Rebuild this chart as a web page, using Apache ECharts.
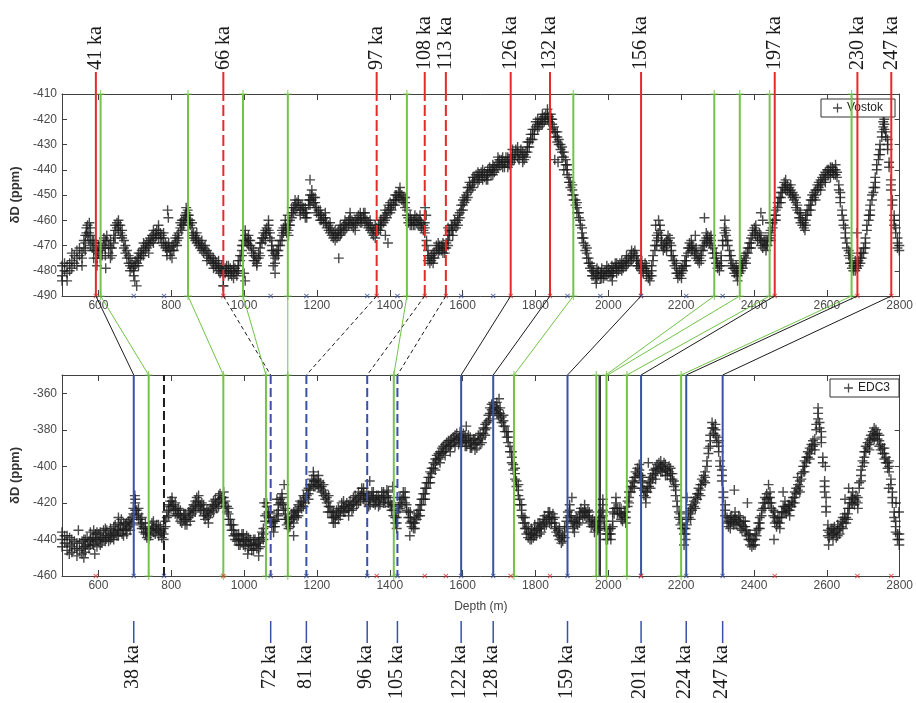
<!DOCTYPE html>
<html>
<head>
<meta charset="utf-8">
<script src="https://cdn.jsdelivr.net/npm/echarts@6/dist/echarts.min.js"></script>
<style>
html,body{margin:0;padding:0;background:#ffffff;}
#chart{width:916px;height:703px;}
</style>
</head>
<body>
<div id="chart"></div>
<script>
// ---- axis ticks ----
const depthTicks = [600, 800, 1000, 1200, 1400, 1600, 1800, 2000, 2200, 2400, 2600, 2800];
const vostokTicks = [-490, -480, -470, -460, -450, -440, -430, -420, -410];
const edcTicks = [-460, -440, -420, -400, -380, -360];

// ---- Vostok δD samples: [depth (m), δD, δD, ...] ----
const vostokRows = [
[500,-478,-482,-484],[507,-480,-477],[514,-481,-478,-484],[521,-477,-480],[527,-476,-473,-479],[534,-474,-477],
[541,-472,-475,-478],[548,-474,-471],[555,-475,-478,-473],[560,-471,-468],[564,-469,-466,-472],[567,-463,-465],
[570,-462,-466],[574,-465,-468],[578,-466,-463,-470],[583,-468,-471],[587,-468,-472,-475],[592,-472,-469],
[596,-472,-475,-478],[600,-473,-470],[605,-472,-475,-469],[610,-471,-474],[615,-470,-467],[619,-468,-471,-474],
[623,-468,-466],[628,-470,-473],[633,-471,-468,-475],[637,-471,-474],[642,-466,-469],[646,-464,-462,-467],
[651,-461,-463],[655,-460,-462,-464],[660,-462,-465],[665,-464,-467,-466],[670,-468,-471],[674,-470,-473],
[678,-472,-475],[683,-474,-477],[687,-475,-478,-480],[692,-477,-479],[697,-478,-480,-482],[701,-476,-478],
[706,-475,-477],[710,-475,-473,-478],[715,-473,-475],[719,-472,-474],[724,-471,-469,-474],[729,-470,-472],
[733,-469,-471],[738,-470,-468,-473],[742,-467,-469],[747,-466,-468],[751,-466,-464,-469],[756,-465,-467],
[760,-464,-466],[765,-464,-462,-467],[770,-465,-467],[774,-466,-469],[779,-467,-465,-470],[784,-469,-471],
[788,-470,-472,-474],[793,-471,-469],[797,-472,-474],[802,-472,-470,-475],[807,-470,-472],[811,-469,-467],
[816,-468,-466,-470],[820,-465,-467],[825,-463,-461],[829,-462,-460,-464],[834,-460,-462],[838,-458,-460],
[841,-457,-455,-459],[845,-456,-458],[848,-458,-460,-461],[852,-460,-462],[857,-463,-461,-466],[861,-465,-467],
[866,-466,-468],[870,-467,-469,-465],[875,-468,-470],[879,-469,-471],[884,-470,-472,-468],[889,-471,-473],
[893,-472,-470],[898,-472,-474,-476],[903,-473,-475],[907,-474,-476],[912,-475,-477],[916,-475,-477,-479],
[921,-476,-478],[925,-477,-479],[930,-478,-480,-476],[934,-479,-481],[939,-480,-478],[943,-480,-482,-486],
[948,-479,-481],[952,-478,-480],[957,-478,-480,-482],[962,-479,-481],[966,-480,-482],[971,-480,-478,-483],
[975,-481,-479],[980,-480,-482],[984,-480,-478,-476],[989,-476,-474],[994,-472,-474,-470],[998,-468,-470],
[1003,-466,-468,-464],[1008,-467,-469],[1012,-468,-470,-466],[1017,-470,-468],[1021,-471,-473],[1026,-472,-474,-476],
[1030,-474,-476],[1035,-475,-477,-478],[1040,-473,-475],[1044,-471,-469,-474],[1049,-469,-467],[1053,-467,-465],
[1058,-466,-464,-468],[1062,-463,-465],[1067,-462,-460,-464],[1071,-465,-467],[1076,-468,-470,-472],[1080,-472,-474],
[1085,-475,-473,-477],[1090,-474,-472],[1094,-472,-470,-474],[1099,-468,-470],[1104,-466,-464,-468],[1108,-463,-465],
[1113,-462,-460,-464],[1117,-463,-465],[1122,-464,-462,-466],[1126,-460,-462],[1131,-457,-459,-455],[1136,-455,-457],
[1140,-454,-452,-456],[1145,-453,-455],[1149,-454,-452],[1154,-454,-456,-458],[1159,-454,-456],[1163,-455,-457],
[1168,-457,-455,-459],[1172,-457,-459],[1177,-454,-452],[1181,-452,-450,-454],[1186,-450,-448,-452],[1190,-451,-453],
[1195,-453,-451,-455],[1199,-455,-457],[1204,-456,-458],[1209,-458,-456,-460],[1213,-458,-460],[1218,-459,-461],
[1223,-459,-461,-457],[1227,-461,-463],[1232,-462,-464],[1236,-463,-465,-461],[1241,-464,-466],[1245,-465,-467],
[1250,-466,-464,-468],[1255,-465,-467],[1259,-464,-466],[1264,-464,-462,-466],[1268,-463,-465],[1273,-462,-464],
[1277,-462,-460,-464],[1282,-461,-463],[1287,-460,-462],[1291,-459,-457,-461],[1296,-460,-462],[1300,-461,-463],
[1305,-462,-460,-464],[1310,-461,-459],[1314,-460,-458],[1319,-459,-461,-457],[1323,-459,-461],[1328,-459,-457],
[1332,-459,-461,-457],[1337,-460,-462],[1341,-461,-463],[1346,-462,-460,-464],[1351,-463,-465],[1355,-464,-466],
[1360,-464,-462,-467],[1364,-463,-465],[1369,-462,-464],[1374,-462,-460,-464],[1378,-460,-462],[1383,-459,-461],
[1387,-458,-456,-460],[1392,-457,-459],[1396,-456,-454],[1401,-455,-453,-457],[1405,-454,-456],[1410,-452,-454],
[1415,-452,-450,-454],[1419,-450,-452],[1424,-449,-451],[1428,-449,-447,-451],[1433,-450,-452],[1437,-451,-453],
[1442,-453,-451,-455],[1447,-456,-458],[1451,-459,-461],[1456,-460,-462,-458],[1460,-460,-462],[1465,-460,-462],
[1469,-460,-462,-458],[1474,-461,-459],[1478,-460,-462],[1483,-460,-462,-458],[1487,-461,-463],[1492,-462,-464],
[1496,-463,-465,-461],[1501,-468,-470],[1505,-474,-472,-476],[1510,-475,-477],[1514,-476,-474],[1519,-475,-477,-473],
[1523,-473,-475],[1528,-472,-470],[1533,-471,-469,-473],[1537,-470,-472],[1542,-470,-472],[1546,-471,-469,-473],
[1551,-471,-473],[1555,-471,-469],[1560,-468,-466,-470],[1564,-466,-464],[1569,-464,-462],[1573,-464,-462,-466],
[1578,-462,-460],[1582,-461,-463],[1587,-460,-458,-462],[1592,-457,-459],[1596,-456,-454],[1601,-454,-452,-456],
[1605,-453,-451],[1610,-452,-450],[1614,-449,-447,-451],[1619,-447,-445],[1623,-446,-448],[1628,-445,-443,-447],
[1632,-443,-445],[1637,-444,-442],[1642,-443,-441,-445],[1646,-442,-444],[1651,-441,-443],[1655,-442,-440,-444],
[1660,-443,-441],[1665,-442,-444],[1669,-442,-440,-444],[1674,-441,-439],[1678,-440,-442],[1683,-440,-438,-442],
[1687,-439,-441],[1692,-438,-440],[1697,-437,-439,-435],[1701,-436,-438],[1706,-436,-438],[1710,-437,-435,-439],
[1715,-437,-439],[1719,-437,-435],[1724,-437,-435,-439],[1728,-436,-438],[1733,-435,-437],[1737,-434,-436,-432],
[1742,-434,-436],[1746,-434,-432],[1751,-433,-435,-431],[1755,-434,-436],[1760,-434,-432],[1765,-435,-433,-437],
[1769,-434,-436],[1774,-433,-435],[1778,-431,-429,-433],[1783,-429,-431],[1787,-428,-426],[1792,-426,-424,-428],
[1797,-424,-426],[1801,-423,-421],[1806,-422,-420,-424],[1810,-421,-423],[1815,-420,-422],[1819,-420,-418,-422],
[1824,-419,-421],[1828,-418,-420],[1833,-418,-416,-420],[1837,-419,-421],[1842,-420,-418],[1846,-420,-422,-424],
[1851,-423,-425],[1855,-425,-427],[1860,-427,-429,-425],[1864,-428,-430],[1869,-430,-432],[1873,-431,-433,-435],
[1878,-433,-435],[1883,-436,-438],[1887,-440,-442,-438],[1892,-443,-445],[1896,-445,-447],[1901,-448,-450,-446],
[1905,-450,-452],[1910,-452,-454],[1914,-455,-457,-453],[1919,-457,-459],[1923,-460,-462],[1928,-463,-465,-467],
[1932,-467,-469],[1937,-470,-472],[1941,-473,-475,-471],[1946,-475,-477],[1950,-477,-479],[1955,-478,-480,-482],
[1959,-480,-482],[1964,-481,-483],[1969,-481,-483,-479],[1973,-482,-480],[1978,-481,-483],[1982,-481,-479,-483],
[1987,-481,-483],[1991,-480,-482],[1996,-480,-478,-482],[2001,-481,-479],[2005,-480,-482],[2010,-480,-478,-482],
[2014,-479,-481],[2019,-479,-477],[2023,-479,-477,-481],[2028,-478,-480],[2032,-477,-479],[2037,-478,-476,-480],
[2041,-477,-479],[2046,-476,-478],[2050,-476,-474,-478],[2055,-475,-477],[2060,-474,-476],[2064,-474,-472,-476],
[2069,-473,-475],[2073,-472,-474],[2078,-474,-476,-478],[2082,-476,-478],[2087,-477,-479],[2092,-478,-480,-476],
[2096,-479,-481],[2101,-479,-477],[2105,-480,-482,-478],[2110,-481,-483],[2114,-482,-484],[2119,-480,-482,-478],
[2123,-476,-474],[2128,-472,-470],[2133,-468,-466,-470],[2137,-465,-467],[2142,-464,-462],[2146,-466,-468,-470],
[2151,-470,-472],[2155,-471,-469],[2160,-470,-472,-468],[2164,-468,-466],[2169,-467,-469],[2173,-470,-472,-474],
[2178,-474,-476],[2182,-476,-478],[2187,-479,-481,-477],[2191,-481,-483],[2196,-482,-480],[2201,-481,-479,-483],
[2205,-480,-478],[2210,-478,-476],[2214,-476,-474,-478],[2219,-473,-471],[2223,-471,-469],[2228,-470,-472,-468],
[2232,-470,-472],[2237,-472,-474],[2241,-473,-475,-471],[2246,-474,-476],[2250,-475,-477],[2255,-474,-472,-476],
[2260,-470,-472],[2264,-468,-470],[2269,-467,-465,-469],[2273,-466,-468],[2278,-467,-469],[2282,-468,-470,-466],
[2287,-471,-473],[2291,-473,-475],[2296,-475,-477,-473],[2300,-477,-479],[2305,-478,-480],[2310,-476,-474,-478],
[2314,-470,-468],[2319,-465,-463],[2323,-464,-466,-468],[2328,-468,-470],[2333,-472,-474],[2337,-474,-476,-478],
[2342,-477,-479],[2346,-479,-481],[2351,-480,-478,-482],[2355,-480,-482],[2360,-479,-481],[2364,-478,-480,-476],
[2369,-477,-479],[2373,-476,-474],[2378,-475,-473,-477],[2383,-473,-471],[2387,-471,-469],[2392,-469,-467,-471],
[2396,-466,-464],[2401,-463,-465],[2405,-464,-462,-466],[2410,-466,-468],[2415,-467,-465],[2419,-468,-470,-466],
[2424,-469,-471],[2428,-470,-468],[2433,-470,-468,-472],[2437,-468,-470],[2442,-467,-465],[2446,-466,-464,-468],
[2451,-463,-461],[2456,-460,-458],[2460,-458,-456,-460],[2465,-455,-453],[2469,-453,-451],[2474,-451,-449,-453],
[2478,-449,-447],[2483,-447,-445],[2487,-446,-448,-444],[2492,-446,-448],[2497,-447,-449],[2501,-448,-446,-450],
[2506,-449,-451],[2510,-450,-452],[2515,-451,-453,-455],[2519,-454,-456],[2524,-457,-459],[2528,-459,-461,-457],
[2533,-460,-462],[2537,-461,-463],[2542,-460,-462,-458],[2546,-458,-456],[2551,-456,-454],[2556,-454,-452,-456],
[2560,-452,-450],[2565,-451,-449],[2569,-450,-448,-452],[2574,-448,-446],[2578,-447,-445],[2583,-446,-444,-448],
[2587,-445,-443],[2592,-444,-442],[2596,-443,-441,-445],[2601,-442,-440],[2605,-442,-440],[2610,-441,-439,-443],
[2615,-441,-439],[2619,-440,-442],[2624,-440,-442,-438],[2628,-441,-443],[2633,-446,-448],[2637,-451,-453,-449],
[2642,-456,-458],[2646,-460,-462],[2651,-465,-467,-463],[2655,-469,-471],[2660,-472,-474],[2664,-475,-477,-473],
[2669,-477,-479],[2673,-478,-480],[2678,-478,-480,-476],[2683,-477,-479],[2687,-476,-478],[2692,-475,-477,-473],
[2696,-473,-475],[2701,-471,-473],[2706,-469,-467,-471],[2710,-464,-462],[2715,-460,-458],[2719,-456,-454,-458],
[2724,-452,-450],[2728,-449,-447],[2733,-445,-443,-447],[2737,-440,-438],[2742,-436,-434],[2746,-432,-430,-434],
[2751,-427,-425],[2755,-423,-421],[2758,-422,-424,-420],[2762,-425,-427],[2767,-430,-428,-432],[2771,-437,-439],
[2776,-446,-444,-448],[2780,-452,-454],[2785,-460,-462,-458],[2789,-465,-463],[2794,-467,-469,-471],[2799,-472,-470]
];
// scattered Vostok samples away from the main trend
const vostokStray = [
[575,-461],[620,-479],[700,-484],[705,-486],[790,-456],[792,-459],[943,-486],[1000,-481],[1003,-484],[1080,-478],
[1085,-481],[1120,-458],[1181,-444],[1260,-475],[1388,-466],[1395,-469],[1497,-455],[1500,-458],[1560,-463],
[1853,-436],[1862,-437],[1878,-440],[1967,-485],[2011,-484],[2130,-462],[2138,-460],[2239,-466],[2264,-459],
[2320,-460],[2355,-484],[2419,-457],[2424,-460],[2444,-461],[2540,-464],[2683,-465]
];

// ---- EDC3 δD samples: [depth (m), δD, δD, ...] ----
const edcRows = [
[500,-440,-444,-436],[507,-442,-438],[514,-442,-446,-438],[521,-443,-439],[527,-444,-440,-447],[534,-445,-441],
[541,-445,-449,-442],[548,-446,-442],[555,-445,-448,-441],[560,-444,-440],[564,-444,-447,-440],[569,-443,-439],
[574,-441,-445],[578,-440,-436,-443],[583,-439,-442],[587,-439,-435,-443],[592,-440,-437],[596,-440,-444,-436],
[601,-441,-437],[605,-440,-436,-443],[610,-439,-442],[614,-439,-435],[619,-438,-441,-434],[623,-439,-435],
[628,-438,-441],[633,-437,-434,-440],[637,-436,-439],[642,-437,-433,-440],[646,-436,-432],[651,-435,-438],
[655,-435,-431,-438],[660,-435,-432],[665,-434,-437],[669,-435,-431,-438],[674,-435,-432],[678,-434,-437,-431],
[683,-433,-430],[687,-432,-429,-435],[692,-431,-428],[696,-426,-423],[701,-420,-418,-424],[705,-424,-427],
[710,-426,-429,-423],[715,-429,-432],[719,-431,-434,-428],[724,-433,-436],[729,-434,-437,-431],[733,-436,-439],
[738,-437,-440,-434],[742,-435,-438],[747,-434,-431],[751,-433,-436,-430],[756,-434,-437],[760,-435,-432],
[765,-435,-438,-432],[770,-436,-433],[774,-436,-439],[779,-437,-434,-440],[784,-433,-430],[788,-428,-425],
[793,-424,-421,-427],[797,-422,-419],[802,-419,-417,-422],[806,-421,-424],[811,-423,-420,-426],[816,-424,-427],
[820,-426,-423],[825,-427,-430,-424],[829,-428,-431],[834,-429,-426],[838,-429,-432,-426],[843,-429,-432],
[848,-428,-425],[852,-427,-424,-430],[857,-426,-423],[861,-424,-421],[866,-422,-419,-425],[870,-420,-417],
[875,-419,-422,-416],[880,-421,-424],[884,-423,-420],[889,-424,-427,-421],[893,-426,-429],[898,-427,-424],
[902,-428,-431,-425],[907,-426,-423],[912,-424,-421],[916,-422,-419,-425],[921,-421,-418],[925,-420,-423],
[930,-419,-416,-422],[934,-418,-415],[939,-417,-420],[944,-417,-414,-420],[948,-419,-422],[953,-422,-425],
[957,-426,-423,-429],[962,-429,-432],[966,-432,-435],[971,-435,-438,-432],[975,-437,-440],[980,-438,-441],
[985,-440,-437,-443],[989,-440,-443],[994,-440,-437],[998,-440,-443,-437],[1003,-441,-444],[1007,-441,-438],
[1012,-442,-445,-439],[1017,-443,-440],[1021,-443,-446],[1026,-443,-446,-440],[1030,-443,-440],[1035,-442,-445],
[1040,-442,-439,-445],[1044,-441,-444],[1049,-439,-436],[1053,-437,-434,-440],[1058,-430,-427],[1062,-422,-420,-426],
[1067,-425,-428],[1072,-428,-431,-425],[1076,-430,-433],[1081,-433,-436,-430],[1085,-433,-430],[1090,-429,-426],
[1094,-424,-421,-427],[1099,-420,-418],[1104,-417,-415,-420],[1108,-421,-424],[1113,-426,-429,-423],[1117,-429,-432],
[1122,-431,-434,-428],[1126,-430,-433],[1131,-429,-426],[1136,-428,-431,-425],[1140,-427,-424],[1145,-425,-428],
[1149,-424,-421,-427],[1154,-422,-419],[1158,-420,-423],[1163,-419,-416,-422],[1168,-417,-420],[1172,-416,-413],
[1177,-415,-412,-418],[1181,-413,-410],[1186,-410,-407],[1191,-408,-405,-411],[1195,-408,-411],[1200,-407,-410],
[1204,-408,-405,-411],[1209,-409,-412],[1213,-411,-414],[1218,-413,-410,-416],[1223,-415,-418],[1227,-417,-420],
[1232,-419,-422,-416],[1236,-422,-425],[1241,-425,-428],[1245,-428,-431,-425],[1250,-428,-431],[1254,-427,-424],
[1259,-426,-429,-423],[1264,-424,-427],[1268,-423,-420],[1273,-422,-425,-419],[1277,-422,-425],[1282,-423,-420],
[1287,-424,-421,-427],[1291,-422,-419],[1296,-421,-424],[1300,-420,-417,-423],[1305,-419,-416],[1309,-418,-421],
[1314,-417,-414,-420],[1319,-416,-419],[1323,-415,-412],[1328,-415,-418,-412],[1332,-416,-419],[1337,-418,-415],
[1342,-419,-422,-416],[1346,-418,-421],[1351,-417,-414],[1355,-417,-420,-414],[1360,-418,-421],[1364,-419,-416],
[1369,-419,-422,-416],[1373,-418,-421],[1378,-417,-414],[1383,-417,-420,-414],[1387,-417,-420],[1392,-416,-413],
[1396,-417,-420,-414],[1401,-419,-422],[1405,-421,-424],[1410,-424,-427,-421],[1415,-428,-431],[1419,-431,-434,-428],
[1424,-425,-422],[1428,-420,-417,-423],[1433,-418,-421],[1437,-417,-414],[1442,-417,-420,-414],[1446,-421,-424],
[1451,-425,-428],[1456,-428,-431,-425],[1460,-430,-433],[1465,-431,-434],[1469,-431,-428,-434],[1474,-429,-426],
[1478,-427,-424],[1483,-424,-421,-427],[1487,-421,-418],[1492,-418,-415],[1497,-415,-412,-418],[1501,-412,-409],
[1506,-409,-406],[1511,-406,-403,-409],[1515,-404,-401],[1520,-401,-398],[1525,-399,-396,-402],[1529,-397,-394],
[1534,-396,-393],[1538,-395,-392,-398],[1543,-393,-390],[1547,-392,-389],[1552,-391,-388,-394],[1556,-390,-387],
[1561,-389,-386],[1566,-389,-386,-392],[1570,-388,-385],[1575,-387,-384],[1579,-386,-383,-389],[1584,-385,-382],
[1589,-385,-388],[1593,-384,-381,-387],[1598,-384,-387],[1602,-385,-382],[1607,-386,-383,-389],[1611,-386,-389],
[1616,-386,-383],[1621,-387,-384,-390],[1625,-387,-390],[1630,-388,-385],[1634,-388,-391,-385],[1639,-387,-390],
[1643,-386,-383],[1648,-385,-382,-388],[1653,-384,-387],[1657,-382,-379],[1662,-380,-377,-383],[1666,-379,-376],
[1671,-375,-372],[1675,-371,-368,-374],[1680,-369,-366],[1684,-368,-365,-371],[1689,-367,-370],[1694,-368,-365,-371],
[1698,-369,-372],[1703,-371,-368,-374],[1707,-373,-376],[1712,-375,-378,-372],[1716,-378,-381],[1721,-381,-384],
[1725,-384,-387,-381],[1730,-389,-392],[1735,-395,-398,-392],[1739,-399,-402],[1744,-404,-407,-401],[1748,-408,-411],
[1753,-413,-416,-410],[1757,-418,-421],[1762,-424,-427,-421],[1766,-428,-431],[1771,-431,-434,-428],[1775,-434,-437],
[1780,-436,-439,-433],[1785,-437,-440],[1789,-437,-434,-440],[1794,-436,-439],[1798,-435,-432,-438],[1803,-435,-438],
[1807,-434,-431],[1812,-434,-437,-431],[1816,-433,-436],[1821,-432,-429],[1825,-430,-433,-427],[1830,-429,-432],
[1835,-428,-425],[1839,-428,-431,-425],[1844,-428,-431],[1848,-429,-426],[1853,-431,-434,-428],[1857,-433,-436],
[1862,-435,-438],[1866,-437,-440,-434],[1871,-439,-442],[1875,-438,-441],[1880,-436,-439,-433],[1885,-433,-430],
[1889,-428,-425],[1894,-424,-421,-427],[1898,-427,-430],[1903,-431,-434],[1907,-433,-436,-430],[1912,-431,-428],
[1916,-429,-432],[1921,-428,-425,-431],[1925,-426,-423],[1930,-425,-428],[1935,-424,-421,-427],[1939,-425,-428],
[1944,-427,-424],[1948,-428,-431,-425],[1953,-430,-433],[1957,-432,-429],[1962,-433,-436,-430],[1966,-433,-430],
[1971,-432,-435],[1975,-431,-428,-434],[1980,-428,-425],[1985,-424,-421,-427],[1989,-430,-433],[1994,-437,-440,-434],
[1998,-437,-440],[2003,-437,-434],[2007,-437,-440,-434],[2012,-433,-430],[2016,-426,-423],[2021,-420,-417,-423],
[2025,-423,-426],[2030,-426,-423],[2035,-426,-429,-423],[2039,-427,-430],[2044,-428,-425],[2048,-428,-431,-425],
[2053,-422,-419],[2057,-417,-414,-420],[2062,-414,-411],[2066,-411,-408],[2071,-409,-406,-412],[2075,-406,-403],
[2080,-404,-401],[2085,-402,-399,-405],[2089,-405,-408],[2094,-409,-412,-406],[2098,-413,-416],[2103,-417,-414,-420],
[2107,-414,-411],[2112,-411,-408],[2116,-409,-406,-412],[2121,-407,-404],[2125,-405,-402],[2130,-404,-401,-407],
[2134,-402,-399],[2139,-401,-398],[2144,-400,-397,-403],[2148,-400,-403],[2153,-401,-398],[2157,-402,-399,-405],
[2162,-402,-405],[2167,-403,-400],[2171,-404,-401,-407],[2176,-404,-407],[2180,-408,-411],[2185,-413,-416,-410],
[2189,-419,-422],[2194,-425,-428],[2198,-429,-432,-426],[2203,-431,-434],[2208,-434,-437],[2212,-437,-440,-434],
[2216,-432,-429],[2221,-428,-425],[2226,-426,-423,-429],[2230,-424,-421],[2235,-422,-419],[2239,-420,-417,-423],
[2244,-418,-415],[2248,-415,-412],[2253,-413,-410,-416],[2257,-410,-407],[2262,-408,-405],[2266,-406,-403,-409],
[2271,-400,-397],[2275,-393,-390],[2280,-386,-383,-389],[2285,-379,-376],[2289,-379,-382],[2294,-380,-377,-383],
[2298,-384,-387],[2303,-389,-392,-386],[2307,-397,-400],[2312,-405,-408,-402],[2316,-414,-417],[2321,-424,-427,-421],
[2326,-428,-431],[2330,-430,-433],[2335,-431,-434,-428],[2339,-430,-427],[2344,-429,-432],[2348,-428,-425,-431],
[2353,-429,-432],[2358,-430,-427],[2362,-431,-434,-428],[2367,-432,-435],[2371,-433,-430],[2376,-433,-436,-430],
[2380,-435,-438],[2385,-437,-440],[2389,-440,-443,-437],[2394,-441,-444],[2398,-440,-443],[2403,-440,-437,-443],
[2407,-438,-435],[2412,-434,-431],[2416,-431,-428,-434],[2421,-427,-424],[2425,-423,-420],[2430,-420,-417,-423],
[2435,-418,-415],[2439,-417,-420],[2444,-417,-414,-420],[2448,-420,-423],[2453,-424,-427],[2457,-428,-431,-425],
[2462,-430,-433],[2466,-431,-428],[2471,-431,-434,-428],[2476,-428,-425],[2480,-425,-422],[2485,-422,-419,-425],
[2489,-423,-426],[2494,-424,-421],[2498,-424,-427,-421],[2503,-422,-419],[2507,-420,-417],[2512,-417,-414,-420],
[2516,-415,-412],[2521,-413,-410],[2526,-411,-408,-414],[2530,-407,-404],[2535,-403,-400],[2539,-400,-397,-403],
[2544,-398,-395],[2548,-395,-392],[2553,-393,-390,-396],[2558,-391,-388],[2562,-389,-386],[2567,-388,-385,-391],
[2571,-380,-377],[2576,-371,-368,-374],[2580,-376,-379],[2585,-384,-387,-381],[2589,-395,-398],[2594,-411,-408,-414],
[2598,-422,-425],[2603,-435,-438,-432],[2607,-436,-439],[2612,-437,-434],[2617,-437,-440,-434],[2621,-436,-433],
[2626,-436,-439],[2630,-435,-432,-438],[2635,-434,-437],[2639,-433,-430],[2644,-431,-434,-428],[2649,-429,-426],
[2653,-428,-431],[2658,-426,-423,-429],[2662,-423,-420],[2667,-420,-417],[2671,-417,-414,-420],[2676,-418,-421],
[2680,-419,-416],[2685,-420,-417,-423],[2689,-412,-409],[2694,-405,-402,-408],[2698,-400,-397],[2703,-395,-392,-398],
[2707,-392,-389],[2712,-390,-387],[2717,-388,-385,-391],[2721,-386,-383],[2726,-384,-381],[2730,-382,-379,-385],
[2735,-383,-380],[2739,-385,-382],[2744,-386,-383,-389],[2748,-388,-391],[2753,-390,-393],[2758,-393,-390,-396],
[2762,-395,-398],[2767,-398,-401],[2771,-400,-403,-397],[2776,-407,-410],[2780,-417,-414,-420],[2785,-425,-428],
[2789,-433,-436,-430],[2794,-437,-440],[2799,-440,-437,-443]
];
// scattered EDC3 samples away from the main trend
const edcStray = [
[520,-448],[545,-435],[560,-450],[590,-448],[655,-428],[663,-429],[700,-416],[1010,-448],[1040,-449],[1055,-420],
[1090,-418],[1110,-410],[1136,-438],[1190,-403],[1230,-425],[1345,-408],[1408,-411],[1455,-438],[1610,-378],
[1700,-363],[1900,-417],[1985,-418],[2012,-425],[2110,-398],[2208,-443],[2216,-417],[2346,-413],[2382,-420],
[2440,-410],[2455,-440],[2480,-414],[2520,-406],[2596,-400],[2598,-417],[2605,-443],[2650,-418],[2660,-412],
[2770,-412],[2790,-420],[2798,-425]
];

// ---- Vostok age markers (red) ----
const vostokAgeDepth  = [593, 943, 1364, 1496, 1554, 1732, 1840, 2090, 2457, 2684, 2777];
const vostokAgeText   = ['41 ka', '66 ka', '97 ka', '108 ka', '113 ka', '126 ka', '132 ka', '156 ka', '197 ka', '230 ka', '247 ka'];
const vostokAgeDashed = [false, true, true, true, true, false, false, false, false, false, false];
// Vostok tie points (green)
const vostokTieDepth  = [606, 846, 997, 1120, 1447, 1904, 2291, 2361, 2443, 2668];

// ---- EDC age markers (blue) ----
const edcAgeDepth  = [697, 1073, 1171, 1338, 1421, 1596, 1684, 1888, 2090, 2214, 2314];
const edcAgeText   = ['38 ka', '72 ka', '81 ka', '96 ka', '105 ka', '122 ka', '128 ka', '159 ka', '201 ka', '224 ka', '247 ka'];
const edcAgeDashed = [false, true, true, true, true, false, false, false, false, false, false];
// EDC tie points (green) and unlabelled black markers
const edcTieDepth    = [738, 943, 1060, 1120, 1411, 1741, 1967, 1995, 2051, 2200];
const edcBlackDepth  = [780, 1975, 1978];
const edcBlackDashed = [true, false, false];

// ---- links Vostok depth -> EDC depth ----
const linkFrom = [593, 606, 846, 943, 997, 1120, 1364, 1496, 1554, 1447, 1732, 1840, 1904, 2090, 2291, 2361, 2443, 2457, 2668, 2684, 2777];
const linkTo   = [697, 738, 943, 1073, 1060, 1120, 1171, 1338, 1421, 1411, 1596, 1684, 1741, 1888, 1993, 1998, 2051, 2090, 2200, 2214, 2314];
const linkKind = ['k', 'g', 'g', 'kd', 'g', 'g', 'kd', 'kd', 'kd', 'g', 'k', 'k', 'g', 'k', 'g', 'g', 'g', 'k', 'g', 'k', 'k'];

// ---- styling ----
const RED = '#e42a2a', GREEN = '#72c447', BLUE = '#3a52a4', BLACK = '#1c1c1c';
const SANS = 'Liberation Sans', SERIF = 'Liberation Serif';
const PLUS = 'path://M0,4.3h10v1.4h-10zM4.3,0h1.4v10h-1.4z';
const AXIS_COLOR = '#404040', LABEL_COLOR = '#4a4a4a';

function toPoints(rows, stray) {
  const out = [];
  rows.forEach(r => { for (let k = 1; k < r.length; k++) out.push([r[0], r[k]]); });
  return out.concat(stray);
}

function xAxisDef(grid, position, showLabel, extra) {
  return Object.assign({
    type: 'value', gridIndex: grid, position: position, min: 500, max: 2800,
    axisLine: { onZero: false, lineStyle: { color: AXIS_COLOR, width: 1 } },
    axisTick: { inside: true, length: 6, customValues: depthTicks, lineStyle: { color: AXIS_COLOR } },
    axisLabel: { show: showLabel, customValues: depthTicks, formatter: v => String(v),
                 color: LABEL_COLOR, fontSize: 12, fontFamily: SANS, margin: 4 },
    splitLine: { show: false }
  }, extra || {});
}
function yAxisDef(grid, position, min, max, ticks, showLabel, extra) {
  return Object.assign({
    type: 'value', gridIndex: grid, position: position, min: min, max: max,
    axisLine: { onZero: false, lineStyle: { color: AXIS_COLOR, width: 1 } },
    axisTick: { inside: true, length: 5, customValues: ticks, lineStyle: { color: AXIS_COLOR } },
    axisLabel: { show: showLabel, customValues: ticks, formatter: v => String(v),
                 color: LABEL_COLOR, fontSize: 12, fontFamily: SANS, margin: 5 },
    splitLine: { show: false }
  }, extra || {});
}

const yName = {
  name: 'δD (ppm)', nameLocation: 'middle', nameRotate: 90, nameGap: 34,
  nameTextStyle: { fontFamily: SANS, fontSize: 13, fontWeight: 'bold', color: '#333' }
};

// vertical marker line spanning a panel
function lineEl(x, y1, y2, color, width, dash) {
  return { type: 'line', shape: { x1: x, y1: y1, x2: x, y2: y2 },
           style: { stroke: color, lineWidth: width, lineDash: dash || null } };
}

const series = [
  {
    name: 'Vostok', type: 'scatter', xAxisIndex: 0, yAxisIndex: 0,
    data: toPoints(vostokRows, vostokStray), symbol: PLUS, symbolSize: 10,
    itemStyle: { color: '#1d1d1d' }, z: 2, silent: true
  },
  {
    name: 'EDC3', type: 'scatter', xAxisIndex: 1, yAxisIndex: 1,
    data: toPoints(edcRows, edcStray), symbol: PLUS, symbolSize: 10,
    itemStyle: { color: '#1d1d1d' }, z: 2, silent: true
  },
  // Vostok ages: red lines with labels above the panel
  {
    type: 'custom', xAxisIndex: 0, yAxisIndex: 0, z: 6, silent: true,
    data: vostokAgeDepth.map(d => [d, -490]),
    renderItem: function (params, api) {
      const i = params.dataIndex, d = api.value(0);
      const lo = api.coord([d, -490]), hi = api.coord([d, -410]);
      const yLab = hi[1] - 22;
      return { type: 'group', children: [
        lineEl(lo[0], lo[1], hi[1], RED, 2, vostokAgeDashed[i] ? [11, 4] : null),
        lineEl(lo[0], hi[1], yLab, RED, 2, null),
        { type: 'text', x: lo[0], y: yLab - 2, rotation: Math.PI / 2,
          style: { text: vostokAgeText[i], fontFamily: SERIF, fontSize: 20, fill: '#1a1a1a',
                   align: 'left', verticalAlign: 'middle' } }
      ] };
    }
  },
  // Vostok tie points
  {
    type: 'custom', xAxisIndex: 0, yAxisIndex: 0, z: 5, silent: true,
    data: vostokTieDepth.map(d => [d, -490]),
    renderItem: function (params, api) {
      const d = api.value(0);
      const lo = api.coord([d, -490]), hi = api.coord([d, -410]);
      return lineEl(lo[0], lo[1], hi[1], GREEN, 2, null);
    }
  },
  // EDC ages: blue lines with labels below the panel
  {
    type: 'custom', xAxisIndex: 1, yAxisIndex: 1, z: 6, silent: true,
    data: edcAgeDepth.map(d => [d, -460]),
    renderItem: function (params, api) {
      const i = params.dataIndex, d = api.value(0);
      const lo = api.coord([d, -460]), hi = api.coord([d, -350]);
      return { type: 'group', children: [
        lineEl(lo[0], hi[1], lo[1], BLUE, 2, edcAgeDashed[i] ? [9, 4] : null),
        lineEl(lo[0], lo[1] + 45, lo[1] + 67, BLUE, 1.5, null),
        { type: 'text', x: lo[0] - 1, y: lo[1] + 69, rotation: Math.PI / 2,
          style: { text: edcAgeText[i], fontFamily: SERIF, fontSize: 20, fill: '#1a1a1a',
                   align: 'right', verticalAlign: 'middle' } }
      ] };
    }
  },
  // EDC tie points
  {
    type: 'custom', xAxisIndex: 1, yAxisIndex: 1, z: 5, silent: true,
    data: edcTieDepth.map(d => [d, -460]),
    renderItem: function (params, api) {
      const d = api.value(0);
      const lo = api.coord([d, -460]), hi = api.coord([d, -350]);
      return lineEl(lo[0], lo[1], hi[1], GREEN, 2, null);
    }
  },
  // EDC unlabelled black markers
  {
    type: 'custom', xAxisIndex: 1, yAxisIndex: 1, z: 5, silent: true,
    data: edcBlackDepth.map(d => [d, -460]),
    renderItem: function (params, api) {
      const i = params.dataIndex, d = api.value(0);
      const lo = api.coord([d, -460]), hi = api.coord([d, -350]);
      return lineEl(lo[0], lo[1], hi[1], BLACK, edcBlackDashed[i] ? 2 : 1.2, edcBlackDashed[i] ? [9, 4] : null);
    }
  },
  // end markers, upper panel
  {
    type: 'scatter', xAxisIndex: 0, yAxisIndex: 0, z: 7, silent: true, clip: false,
    symbol: PLUS, symbolSize: 8, itemStyle: { color: GREEN },
    data: vostokTieDepth.map(d => [d, -490]).concat(vostokTieDepth.map(d => [d, -410]))
  },
  {
    type: 'scatter', xAxisIndex: 0, yAxisIndex: 0, z: 7, silent: true, clip: false,
    symbol: PLUS, symbolSize: 6, symbolRotate: 45, itemStyle: { color: RED },
    data: vostokAgeDepth.map(d => [d, -490])
  },
  {
    type: 'scatter', xAxisIndex: 0, yAxisIndex: 0, z: 7, silent: true, clip: false,
    symbol: PLUS, symbolSize: 6, symbolRotate: 45, itemStyle: { color: BLUE },
    data: edcAgeDepth.concat([780, 1978]).map(d => [d, -490])
  },
  // end markers, lower panel
  {
    type: 'scatter', xAxisIndex: 1, yAxisIndex: 1, z: 7, silent: true, clip: false,
    symbol: PLUS, symbolSize: 8, itemStyle: { color: GREEN },
    data: edcTieDepth.map(d => [d, -460]).concat(edcTieDepth.map(d => [d, -350]))
  },
  {
    type: 'scatter', xAxisIndex: 1, yAxisIndex: 1, z: 7, silent: true, clip: false,
    symbol: PLUS, symbolSize: 6, symbolRotate: 45, itemStyle: { color: BLUE },
    data: edcAgeDepth.concat([780]).map(d => [d, -460])
  },
  {
    type: 'scatter', xAxisIndex: 1, yAxisIndex: 1, z: 7, silent: true, clip: false,
    symbol: PLUS, symbolSize: 6, symbolRotate: 45, itemStyle: { color: RED },
    data: vostokAgeDepth.map(d => [d, -460])
  }
];

const legendBase = {
  orient: 'horizontal', selectedMode: false, backgroundColor: '#ffffff',
  borderColor: '#333', borderWidth: 1, itemWidth: 9, itemHeight: 9, icon: PLUS,
  textStyle: { fontFamily: SANS, fontSize: 12, color: '#222' }
};

const chart = echarts.init(document.getElementById('chart'), null, { renderer: 'canvas' });
chart.setOption({
  animation: false,
  backgroundColor: '#ffffff',
  grid: [
    { left: 62, top: 94, width: 841, height: 202 },
    { left: 62, top: 375, width: 841, height: 201 }
  ],
  xAxis: [
    xAxisDef(0, 'bottom', true),
    xAxisDef(1, 'bottom', true, {
      name: 'Depth (m)', nameLocation: 'middle', nameGap: 25,
      nameTextStyle: { fontFamily: SANS, fontSize: 12, color: '#444' }
    }),
    xAxisDef(0, 'top', false),
    xAxisDef(1, 'top', false)
  ],
  yAxis: [
    yAxisDef(0, 'left', -490, -410, vostokTicks, true, yName),
    yAxisDef(1, 'left', -460, -350, edcTicks, true, yName),
    yAxisDef(0, 'right', -490, -410, vostokTicks, false),
    yAxisDef(1, 'right', -460, -350, edcTicks, false)
  ],
  legend: [
    Object.assign({}, legendBase, { data: ['Vostok'], left: 821, top: 99, padding: [3, 12, 3, 12] }),
    Object.assign({}, legendBase, { data: ['EDC3'], left: 830, top: 379, padding: [3, 9, 3, 14] })
  ],
  series: series
});

// links between the two panels, placed through both grids' scales
const linkEls = linkFrom.map((d, i) => {
  const a = chart.convertToPixel({ xAxisIndex: 0, yAxisIndex: 0 }, [d, -490]);
  const b = chart.convertToPixel({ xAxisIndex: 1, yAxisIndex: 1 }, [linkTo[i], -350]);
  const kind = linkKind[i];
  return {
    type: 'line', silent: true, z: 10,
    shape: { x1: a[0], y1: a[1], x2: b[0], y2: b[1] },
    style: { stroke: kind === 'g' ? GREEN : BLACK, lineWidth: 1,
             lineDash: kind === 'kd' ? [4, 3] : null }
  };
});
chart.setOption({ graphic: linkEls });
</script>
</body>
</html>
